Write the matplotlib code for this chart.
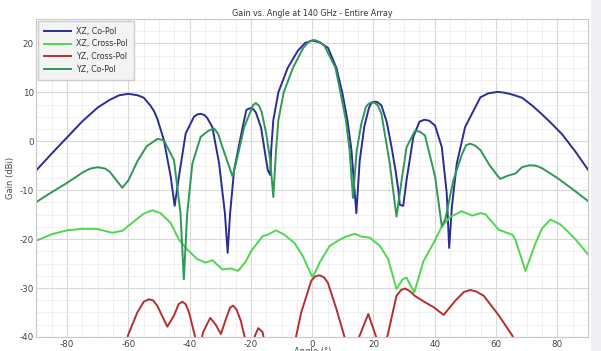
"""Gain vs. angle at 140 GHz for the entire array (XZ / YZ cuts)."""

import matplotlib.pyplot as plt
from matplotlib.patches import Rectangle
from matplotlib.ticker import MultipleLocator

# XZ, Co-Pol
XZ_CO_ANG = [-90, -85, -80, -75, -70, -66, -63, -60, -57, -55, -52.8, -51.5, -50.5, -48.4,
             -46.2, -44.9, -43.5, -41.3, -38.6, -37.5, -36.4, -35.3, -34.3, -32.6, -30.4,
             -28.5, -27.6, -26.8, -25.5, -22.7, -21.5, -20.2, -19.3, -18.4, -16.7, -15.4,
             -14.5, -13.7, -13.4, -12.7, -11.05, -8, -4.7, -2.3, 0, 2.5, 5.15, 7.9, 9.8,
             11.5, 12.8, 14.4, 15.5, 17, 18.5, 19.3, 20.2, 21.3, 22.6, 24.3, 25.9, 27.2,
             28.1, 28.6, 29.7, 30.8, 33, 35, 36.6, 38.2, 40.1, 42.3, 43.9, 44.7, 45.6,
             47.2, 49.9, 54.9, 57.5, 60.6, 63, 65, 68.5, 72, 75, 78, 81.6, 86, 90]
XZ_CO_DB = [-5.9, -2.5, 0.8, 4.1, 6.9, 8.5, 9.4, 9.7, 9.4, 8.9, 7.3, 6.0, 4.5, 0.2,
            -7.2, -13.2, -7.2, 1.6, 5.0, 5.5, 5.6, 5.4, 4.8, 2.9, -4.5,
            -14.7, -22.8, -14.7, -5.9, 2.9, 6.4, 6.8, 6.6, 5.9, 2.8, -2.4,
            -5.9, -6.9, -1.8, 4.3, 10.0, 15.0, 18.5, 20.1, 20.6, 20.2, 19.1, 15.0, 10.0,
            4.3, -1.8, -14.7, -4.0, 3.0, 6.8, 7.8, 8.1, 8.0, 7.3, 4.0, -1.2, -6.0,
            -9.9, -13.0, -13.2, -7.9, 0.9, 4.0, 4.4, 4.2, 3.2, -1.2, -10.6, -21.8, -13.3,
            -4.5, 2.9, 9.0, 9.8, 10.1, 9.9, 9.6, 8.9, 7.2, 5.5, 3.7, 1.4, -2.2, -5.8]

# XZ, Cross-Pol
XZ_X_ANG = [-90, -85, -80, -75, -70.3, -65.3, -62, -58, -55, -52.2, -49.5, -46.2, -43.5,
            -40.8, -37.5, -34.8, -32.6, -29.3, -26.6, -24.2, -21.6, -20, -16.2, -14.5,
            -11.8, -9.1, -5.8, -3.05, -1.4, 0, 1.2, 2.4, 5.7, 9.0, 11, 13.9, 16.1, 18.8,
            22.1, 24.8, 27.5, 29.5, 30.8, 33.3, 36.3, 39.6, 42.3, 45, 48.8, 52.2, 54.9,
            56.5, 60.9, 65.3, 66.3, 69.6, 72.9, 75, 77.8, 81, 84, 86, 90]
XZ_X_DB = [-20.3, -19.0, -18.2, -17.9, -17.9, -18.7, -18.3, -16.3, -14.8, -14.1, -14.7, -16.7, -20.1,
           -22.1, -24.1, -24.8, -24.3, -26.2, -26.0, -26.5, -24.5, -22.5, -19.4, -19.1,
           -18.2, -19.1, -20.8, -23.5, -25.8, -27.7, -26.5, -24.8, -21.4, -20.1, -19.5, -18.9, -19.5, -19.7,
           -21.4, -24.1, -30.2, -28.2, -27.9, -30.9, -24.5, -20.8, -17.4, -15.5, -14.3, -15.2, -14.7,
           -14.9, -18.1, -19.1, -20.1, -26.5, -20.8, -17.8, -16.0, -17.0, -18.8, -20.1, -23.1]

# YZ, Cross-Pol (values below -40 fall outside the axes)
YZ_X_ANG = [-90, -62, -60.1, -57.1, -55, -53.3, -52, -50.6, -47.3, -45.1, -43.6, -42.4,
            -41.3, -40.2, -38.6, -37, -35.6, -33.3, -31.5, -29.8, -28, -26.8, -25.8, -24.7,
            -23.3, -22.2, -20.5, -18.6, -17.6, -16.2, -15, -8, -5.3, -3.6, -0.3, 1, 2.4,
            3.8, 5.1, 7.9, 10.4, 12.5, 15.5, 18.3, 20.7, 22.5, 24.6, 27.5, 29, 30.3, 31.8,
            33.5, 36.8, 39.6, 42.9, 46.7, 49.5, 51.6, 53.5, 56, 60.9, 65.3, 68, 90]
YZ_X_DB = [-50, -45, -39.6, -35.0, -32.8, -32.3, -32.5, -33.6, -37.9, -35.6, -33.3, -32.8,
           -33.3, -35.0, -39.0, -43, -39.0, -36.1, -37.5, -39.4, -36.0, -34.0, -33.6, -34.4,
           -36.7, -39.6, -43, -39.6, -38.2, -39.0, -43, -46, -40, -35.0, -28.5, -27.6, -27.4,
           -27.8, -28.9, -34.3, -39.7, -44, -39.7, -35.3, -39.7, -43, -39.7, -31.6, -30.4, -30.1, -30.6,
           -31.6, -32.9, -33.9, -35.5, -32.6, -30.8, -30.4, -30.7, -31.6, -35.6, -39.7, -44, -55]

# YZ, Co-Pol
YZ_CO_ANG = [-90, -85, -80, -75, -72.5, -70, -67.5, -66, -62, -60, -57, -54, -50.5, -48.4,
             -45.1, -43, -41.9, -40.8, -39.1, -36.4, -34, -32, -30.7, -29.3, -26, -24.4,
             -22.2, -20, -19.3, -18.4, -17.4, -16.5, -15, -13.7, -12.7, -11.8, -11.05, -9.3,
             -6.3, -3, -1.2, 0.7, 2.4, 4, 7.6, 9.2, 11, 12.2, 13.3, 14.5, 16, 17.5, 18.5,
             19.6, 20.6, 21.5, 22.6, 25.3, 27.5, 29.2, 30.8, 33.5, 35, 36.8, 40.1, 42.3,
             43.4, 46.1, 48.8, 50.2, 51.6, 53.2, 54.9, 58, 61.3, 64, 66.3, 68.5, 71, 73,
             75, 80, 85, 90]
YZ_CO_DB = [-12.4, -10.4, -8.5, -6.4, -5.6, -5.3, -5.6, -6.3, -9.5, -8.0, -4.0, -1.0, 0.5, 0.2,
            -3.9, -14.7, -28.2, -14.7, -4.5, 0.9, 2.1, 2.6, 1.5, -1.2, -7.2, -3.2,
            2.9, 6.3, 7.4, 7.8, 7.3, 6.0, 1.5, -4.0, -11.4, -1.8, 4.3, 10.0,
            15.0, 19.0, 20.3, 20.7, 20.3, 19.5, 15.0, 10.0, 4.3, -1.8, -11.6, -2.0, 3.5, 7.0, 7.7,
            8.0, 7.8, 7.2, 5.6, -4.5, -15.4, -7.9, -1.2, 2.1, 2.0, 1.2, -7.2, -17.4,
            -16.0, -7.9, -2.8, -0.8, -0.5, -0.9, -1.8, -5.0, -7.7, -7.0, -6.6, -5.3, -4.9, -5.0,
            -5.5, -7.5, -9.8, -12.2]

SERIES = [
    ("XZ, Co-Pol", XZ_CO_ANG, XZ_CO_DB, "#2b2d96"),
    ("XZ, Cross-Pol", XZ_X_ANG, XZ_X_DB, "#4fd64f"),
    ("YZ, Cross-Pol", YZ_X_ANG, YZ_X_DB, "#b3302e"),
    ("YZ, Co-Pol", YZ_CO_ANG, YZ_CO_DB, "#2f9858"),
]

plt.rcParams["font.family"] = ["DejaVu Sans"]
plt.rcParams["axes.unicode_minus"] = False

fig = plt.figure(figsize=(6.01, 3.51), dpi=100)
fig.patch.set_facecolor("white")
# light grey screenshot border on the right
fig.patches.append(Rectangle((0.983, 0), 0.017, 1, transform=fig.transFigure,
                             facecolor="#eef0f3", edgecolor="none", zorder=-1))

ax = fig.add_axes([0.0607, 0.040, 0.9176, 0.906])

for label, ang, db, color in SERIES:
    ax.plot(ang, db, color=color, linewidth=1.4, label=label,
            solid_joinstyle="round")

ax.set_xlim(-90, 90)
ax.set_ylim(-40, 25)
ax.xaxis.set_major_locator(MultipleLocator(20))
ax.xaxis.set_minor_locator(MultipleLocator(5))
ax.yaxis.set_major_locator(MultipleLocator(10))
ax.yaxis.set_minor_locator(MultipleLocator(2.5))
ax.grid(which="major", color="#d9d9d9", linewidth=0.8)
ax.grid(which="minor", color="#eeeeee", linewidth=0.6)
ax.set_axisbelow(True)
ax.tick_params(which="both", length=0, labelsize=6.3, colors="#444444", pad=2)
for spine in ax.spines.values():
    spine.set_color("#c8c8c8")

ax.set_title("Gain vs. Angle at 140 GHz - Entire Array", fontsize=5.8,
             color="#333333", pad=2)
ax.set_ylabel("Gain (dBi)", fontsize=6, color="#444444", labelpad=3)
ax.set_xlabel("Angle (°)", fontsize=6, color="#444444", labelpad=-1)

leg = ax.legend(loc="upper left", fontsize=5.7, frameon=True, fancybox=False,
                borderpad=0.8, labelspacing=0.45, handlelength=3.4,
                handletextpad=0.6, borderaxespad=0.2)
leg.get_frame().set_facecolor("#f3f3f3")
leg.get_frame().set_edgecolor("#cccccc")
leg.get_frame().set_alpha(1)
for t in leg.get_texts():
    t.set_color("#333333")

fig.savefig("out.png", dpi=100, facecolor=fig.get_facecolor())
